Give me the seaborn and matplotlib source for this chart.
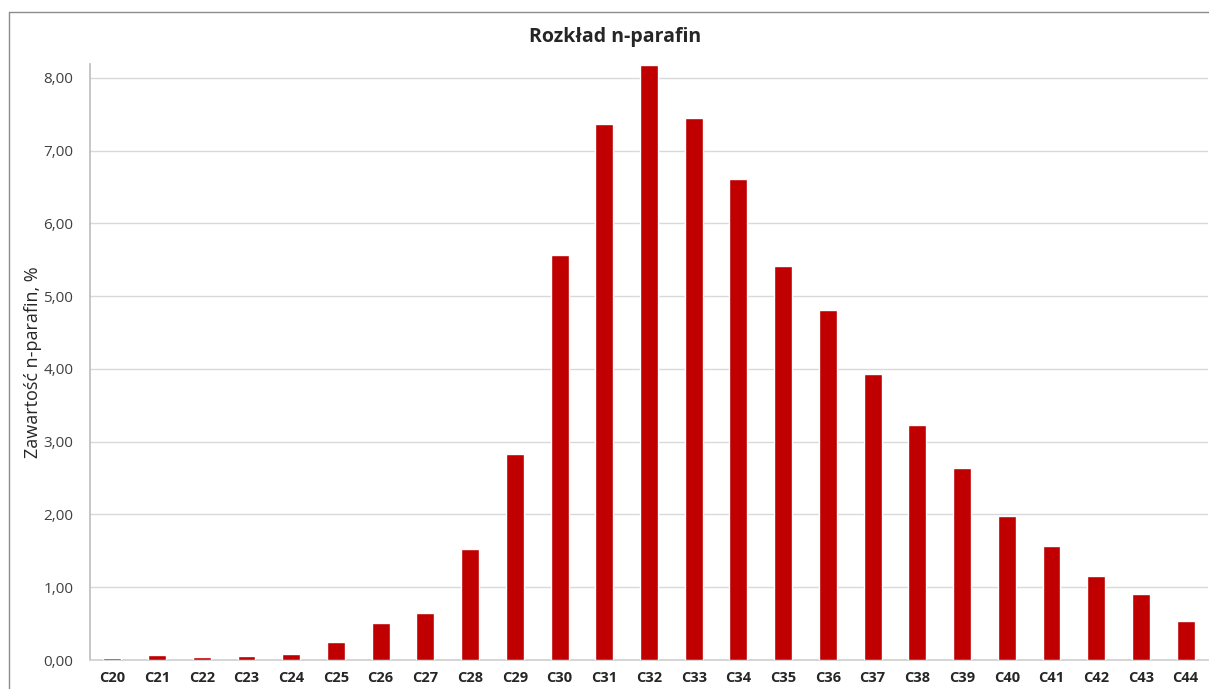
import matplotlib
matplotlib.use('Agg')
import matplotlib.pyplot as plt
import seaborn as sns
import pandas as pd
from matplotlib.lines import Line2D
from matplotlib.ticker import FuncFormatter

carbons = ['C20', 'C21', 'C22', 'C23', 'C24', 'C25', 'C26', 'C27', 'C28', 'C29',
           'C30', 'C31', 'C32', 'C33', 'C34', 'C35', 'C36', 'C37', 'C38', 'C39',
           'C40', 'C41', 'C42', 'C43', 'C44']
content = [0.03, 0.07, 0.04, 0.05, 0.08, 0.25, 0.51, 0.64, 1.52, 2.83,
           5.57, 7.37, 8.17, 7.45, 6.61, 5.42, 4.81, 3.93, 3.23, 2.64,
           1.98, 1.56, 1.16, 0.91, 0.54]
y_ticks = [0, 1, 2, 3, 4, 5, 6, 7, 8]

data = pd.DataFrame({'carbon': carbons, 'content': content})

sns.set_theme(style="white")
plt.rcParams['font.family'] = ['Open Sans', 'DejaVu Sans']

fig = plt.figure(figsize=(12.09, 6.89), dpi=100)
fig.patch.set_edgecolor('none')
ax = fig.add_axes([90 / 1209, (689 - 660) / 689, (1208 - 90) / 1209, (660 - 64) / 689])

sns.barplot(x='carbon', y='content', data=data, color='#C00000', width=0.4,
            saturation=1, ax=ax, zorder=3)

ax.set_xlim(-0.5, len(carbons) - 0.5)
ax.set_ylim(0, 8.19)
ax.set_yticks(y_ticks)
ax.yaxis.set_major_formatter(FuncFormatter(lambda v, p: f'{v:.2f}'.replace('.', ',')))
ax.grid(axis='y', color='#d9d9d9', linewidth=1, zorder=0)
ax.set_axisbelow(True)

for s in ['top', 'right']:
    ax.spines[s].set_visible(False)
ax.spines['left'].set_color('#bfbfbf')
ax.spines['bottom'].set_color('#d0d0d0')

ax.tick_params(axis='y', length=0, pad=12, labelsize=11, labelcolor='#404040')
ax.tick_params(axis='x', length=0, pad=8, labelsize=10.5)
for lbl in ax.get_xticklabels():
    lbl.set_fontweight('bold')

ax.set_xlabel('')
ax.set_ylabel('Zawartość n-parafin, %', fontsize=13, labelpad=10)
ax.yaxis.set_label_coords(-48 / 1118, 0.5)

fig.text(615 / 1209, 1 - 37 / 689, 'Rozkład n-parafin', ha='center', va='center',
         fontsize=14, fontweight='bold')

# outer chart frame (continues past the right and bottom edges)
fig.add_artist(Line2D([9 / 1209, 1.02], [1 - 12 / 689, 1 - 12 / 689], color='#8c8c8c', linewidth=1))
fig.add_artist(Line2D([9 / 1209, 9 / 1209], [-0.02, 1 - 12 / 689], color='#8c8c8c', linewidth=1))

fig.savefig('out.png', dpi=100)
